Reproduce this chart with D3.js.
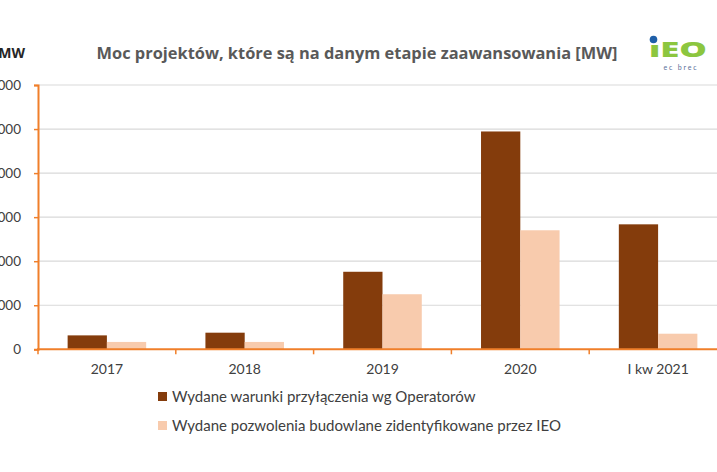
<!DOCTYPE html>
<html>
<head>
<meta charset="utf-8">
<script src="https://cdn.jsdelivr.net/npm/d3@7"></script>
<style>
  body { margin: 0; background: #fff; }
  text { font-family: Lato, "Open Sans", sans-serif; }
</style>
</head>
<body>
<div id="chart"></div>
<script>
// chart data
const categories = ["2017", "2018", "2019", "2020", "I kw 2021"];
const seriesNames = ["Wydane warunki przyłączenia wg Operatorów",
                     "Wydane pozwolenia budowlane zidentyfikowane przez IEO"];
const warunki = [316, 377, 1760, 4945, 2837];
const pozwolenia = [167, 167, 1250, 2702, 354];
const yTicks = [0, 1000, 2000, 3000, 4000, 5000, 6000];

const width = 717;
const height = 472;
const margin = {left: 38, right: -10, top: 85, bottom: 122};
const colors = ["#843c0c", "#f8cbad"];
const axisColor = "#f07f2a";

const svg = d3.select("#chart")
  .append("svg")
  .attr("width", width)
  .attr("height", height);

const yScale = d3.scaleLinear()
  .domain([0, 6000])
  .range([height - margin.bottom - 0.7, margin.top]);

const xScale = d3.scaleBand()
  .domain(categories)
  .range([margin.left, width - margin.right])
  .paddingInner(0.43)
  .paddingOuter(0.215);

const xInner = d3.scaleBand()
  .domain([0, 1])
  .range([0, xScale.bandwidth()]);

// gridlines
svg.append("g")
  .selectAll("line")
  .data(yTicks.slice(1))
  .enter()
  .append("line")
    .attr("x1", margin.left)
    .attr("x2", width)
    .attr("y1", d => yScale(d))
    .attr("y2", d => yScale(d))
    .attr("stroke", "#d9d9d9")
    .attr("stroke-width", 1.2);

// bars
const rows = categories.map((c, i) => ({cat: c, vals: [warunki[i], pozwolenia[i]]}));
const groups = svg.selectAll(".grp")
  .data(rows)
  .enter()
  .append("g")
    .attr("class", "grp")
    .attr("transform", d => `translate(${xScale(d.cat)},0)`);

groups.selectAll("rect")
  .data(d => d.vals.map((v, k) => ({k: k, v: v})))
  .enter()
  .append("rect")
    .attr("x", d => xInner(d.k))
    .attr("y", d => yScale(d.v))
    .attr("width", xInner.bandwidth())
    .attr("height", d => yScale(0) - yScale(d.v))
    .attr("fill", d => colors[d.k]);

// y axis (labels run off the left edge, as in the cropped original)
const yAxis = svg.append("g")
  .attr("transform", `translate(${margin.left},0)`)
  .call(d3.axisLeft(yScale)
          .tickValues(yTicks)
          .tickSize(4)
          .tickPadding(13)
          .tickFormat(d => d === 0 ? "0" : d3.format(",")(d).replace(",", " ")));
yAxis.select(".domain").attr("stroke", axisColor).attr("stroke-width", 2);
yAxis.selectAll(".tick line").attr("stroke", axisColor).attr("stroke-width", 1.5);
yAxis.selectAll(".tick text")
  .attr("fill", "#404040")
  .attr("font-size", "13.5px");

// x axis
const xAxis = svg.append("g")
  .attr("transform", `translate(0,${yScale(0)})`)
  .call(d3.axisBottom(xScale).tickSize(0).tickPadding(15));
xAxis.select(".domain").remove();
xAxis.selectAll(".tick text")
  .attr("fill", "#404040")
  .attr("font-size", "14px");
xAxis.append("line")
  .attr("x1", margin.left - 1)
  .attr("x2", width)
  .attr("stroke", axisColor)
  .attr("stroke-width", 2);
const step = xScale.step();
xAxis.selectAll(".sep")
  .data(categories)
  .enter()
  .append("line")
    .attr("x1", d => xScale(d) - step * 0.215)
    .attr("x2", d => xScale(d) - step * 0.215)
    .attr("y1", 0)
    .attr("y2", 5)
    .attr("stroke", axisColor)
    .attr("stroke-width", 1.5);

// title
svg.append("text")
  .attr("x", 357)
  .attr("y", 59)
  .attr("text-anchor", "middle")
  .attr("font-size", "16.4px")
  .attr("font-weight", "bold")
  .attr("fill", "#595959")
  .style("font-family", "'Open Sans', sans-serif")
  .text("Moc projektów, które są na danym etapie zaawansowania [MW]");

// unit label
svg.append("text")
  .attr("x", 25)
  .attr("y", 58)
  .attr("text-anchor", "end")
  .attr("font-size", "14px")
  .attr("font-weight", "bold")
  .attr("fill", "#262626")
  .style("font-family", "'Open Sans', sans-serif")
  .text("MW");

// legend
const legend = svg.selectAll(".leg")
  .data(seriesNames)
  .enter()
  .append("g")
    .attr("class", "leg")
    .attr("transform", (d, i) => `translate(158,${392 + i * 29})`);
legend.append("rect")
  .attr("width", 9)
  .attr("height", 9)
  .attr("fill", (d, i) => colors[i]);
legend.append("text")
  .attr("x", 14)
  .attr("y", 10)
  .attr("font-size", "15px")
  .attr("fill", "#404040")
  .text(d => d);

// logo
const logo = svg.append("g");
logo.append("text")
  .attr("x", 649)
  .attr("y", 57)
  .attr("font-size", "21px")
  .attr("font-weight", "900")
  .attr("fill", "#8cc63f")
  .attr("textLength", 58)
  .attr("lengthAdjust", "spacingAndGlyphs")
  .style("font-family", "'Open Sans', sans-serif")
  .text("ıEO");
logo.append("circle")
  .attr("cx", 653.5)
  .attr("cy", 39.5)
  .attr("r", 3.8)
  .attr("fill", "#1f5fa8");
logo.append("text")
  .attr("x", 681)
  .attr("y", 70)
  .attr("text-anchor", "middle")
  .attr("font-size", "7px")
  .attr("letter-spacing", "1.8px")
  .attr("fill", "#5a6f9a")
  .text("ec brec");
</script>
</body>
</html>
